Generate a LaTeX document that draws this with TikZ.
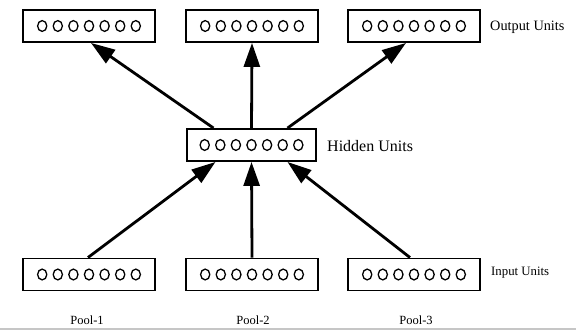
\documentclass[tikz,border=0pt]{standalone}
\usepackage{fontspec}
\setmainfont{Liberation Serif}
\usetikzlibrary{arrows.meta}
\tikzset{
  unitbox/.style={draw, line width=1.9pt, minimum width=132pt, minimum height=32pt, inner sep=0pt},
  conn/.style={line width=2.8pt, -{Triangle[length=24pt,width=16pt]}},
  lbl/.style={anchor=west, inner sep=0pt},
  pool/.style={inner sep=0pt, font=\fontsize{12.5}{12.5}\selectfont},
}
% seven unit circles inside a box
\newcommand{\unitrow}[1]{%
  \foreach \k in {0,...,6}
    \draw[line width=1.3pt] ([xshift={(\k-3)*15.6pt}]#1.center) ellipse [x radius=4.6pt, y radius=5.4pt];%
}
\begin{document}
\begin{tikzpicture}[x=1pt,y=-1pt]
  \useasboundingbox (0,0) rectangle (576,332);
  % output layer
  \node[unitbox] (o1) at (89,26) {};
  \node[unitbox] (o2) at (252,26) {};
  \node[unitbox] (o3) at (414,26) {};
  % hidden layer
  \node[unitbox, minimum width=129pt] (h) at (251.5,145) {};
  % input pools
  \node[unitbox] (i1) at (89,274.5) {};
  \node[unitbox] (i2) at (252,274.5) {};
  \node[unitbox] (i3) at (414,274.5) {};
  \foreach \b in {o1,o2,o3,h,i1,i2,i3} {\unitrow{\b}}
  % labels
  \node[lbl, font=\fontsize{14.3}{14.3}\selectfont] (lo) at (490,27) {Output Units};
  \node[lbl, font=\fontsize{16}{16}\selectfont] (lh) at (327,146) {Hidden Units};
  \node[lbl, font=\fontsize{12.8}{12.8}\selectfont] (li) at (491,273) {Input Units};
  \node[pool] (p1) at (87,320) {Pool-1};
  \node[pool] (p2) at (253,320) {Pool-2};
  \node[pool] (p3) at (416,320) {Pool-3};
  % hidden to output
  \draw[conn] ([xshift=-38pt]h.north) -- ([xshift=2pt]o1.south);
  \draw[conn] (h.north) -- (o2.south);
  \draw[conn] ([xshift=36pt]h.north) -- ([xshift=-8pt]o3.south);
  % input to hidden
  \draw[conn] ([xshift=-1pt]i1.north) -- ([xshift=-36pt]h.south);
  \draw[conn] (i2.north) -- (h.south);
  \draw[conn] ([xshift=-4pt]i3.north) -- ([xshift=36pt]h.south);
  % rule along the bottom
  \coordinate (rl) at (0,329);
  \coordinate (rr) at (576,329);
  \draw[gray!45, line width=1.5pt] (rl) -- (rr);
\end{tikzpicture}
\end{document}
